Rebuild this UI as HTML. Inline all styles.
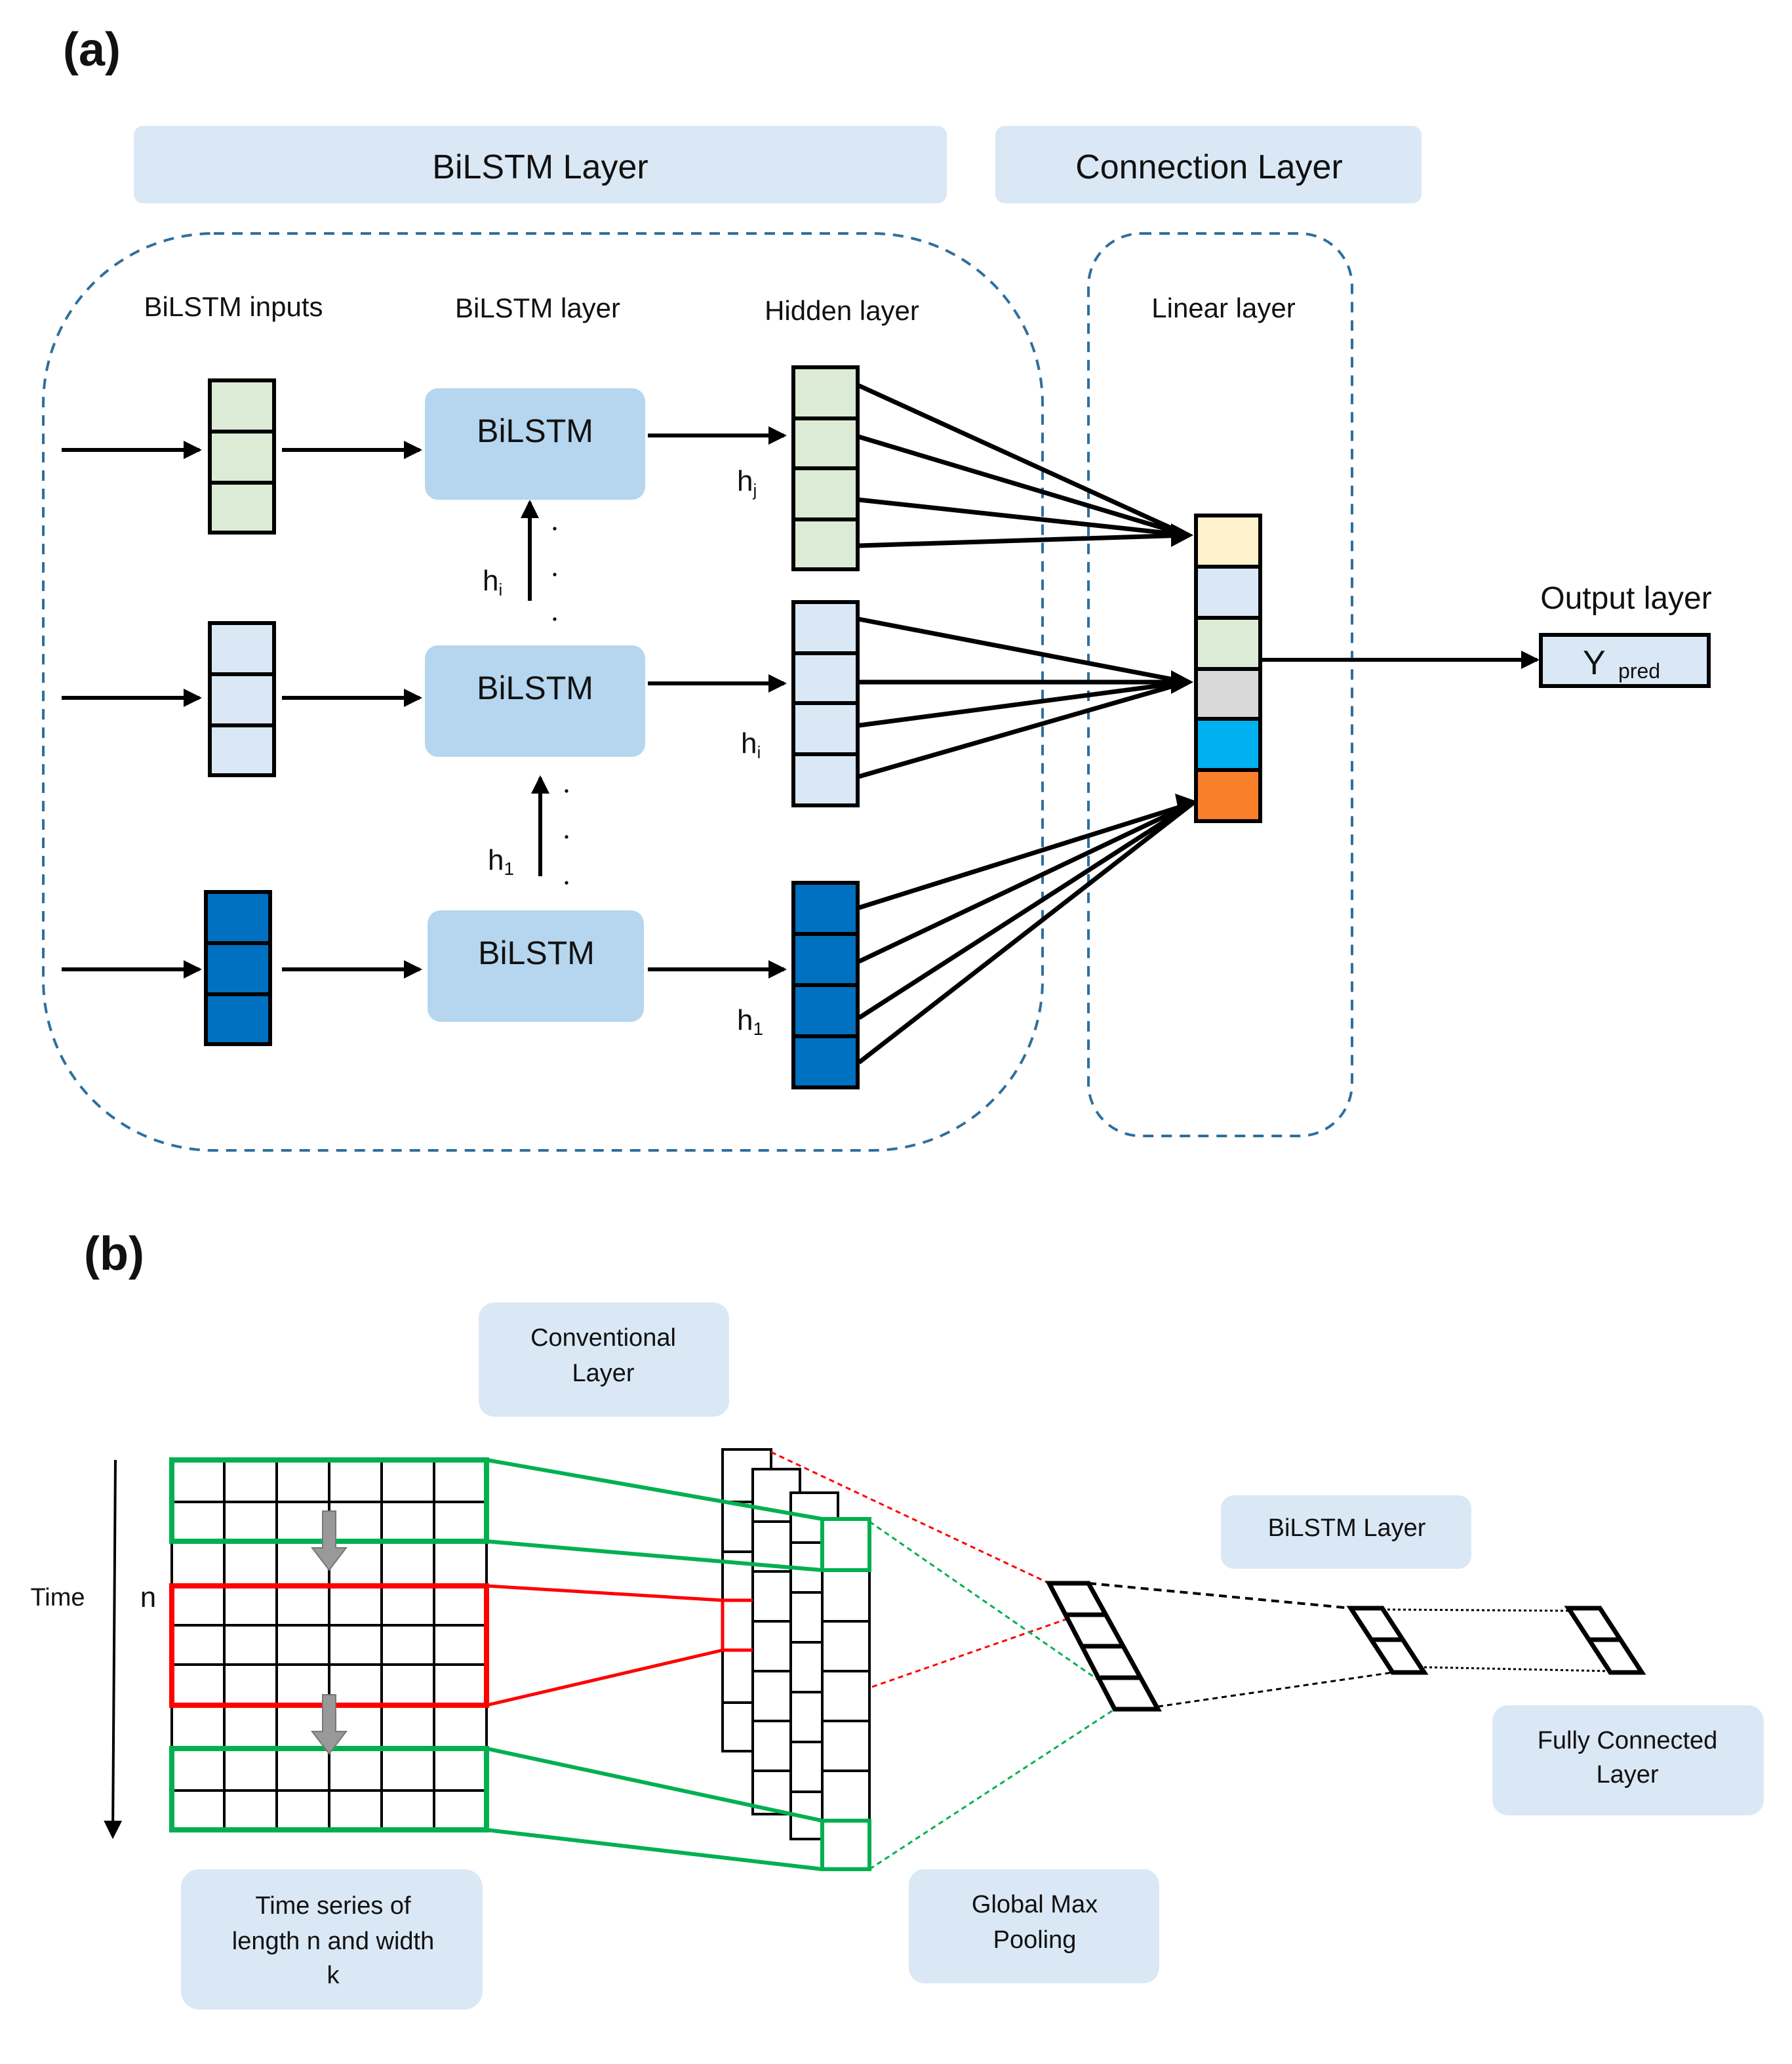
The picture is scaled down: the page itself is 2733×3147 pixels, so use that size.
<!DOCTYPE html>
<html><head><meta charset="utf-8"><style>
html,body{margin:0;padding:0;background:#fff}
svg{display:block}
text{font-family:"Liberation Sans",sans-serif;fill:#111}
</style></head><body>
<svg width="2733" height="3147" viewBox="0 0 1366.5 1573.5" xmlns="http://www.w3.org/2000/svg">
<defs>
<marker id="ah" markerWidth="8" markerHeight="8" refX="7" refY="4" orient="auto" markerUnits="userSpaceOnUse"><path d="M0,0 L8,4 L0,8 z" fill="#000"/></marker>
<marker id="ah2" markerWidth="14" markerHeight="14" refX="12" refY="7" orient="auto" markerUnits="userSpaceOnUse"><path d="M0,0 L14,7 L0,14 z" fill="#000"/></marker>
</defs>
<!-- (a) -->
<text x="48" y="50" font-size="36" font-weight="bold">(a)</text>
<rect x="102" y="96" width="620" height="59" rx="7" fill="#dae8f5"/>
<text x="412" y="136" font-size="26" text-anchor="middle">BiLSTM Layer</text>
<rect x="759" y="96" width="325" height="59" rx="7" fill="#dae8f5"/>
<text x="922" y="136" font-size="26" text-anchor="middle">Connection Layer</text>
<rect x="33" y="178" width="762" height="699" rx="130" fill="none" stroke="#2e6f9e" stroke-width="2" stroke-dasharray="8,6"/>
<rect x="830" y="178" width="201" height="688" rx="40" fill="none" stroke="#2e6f9e" stroke-width="2" stroke-dasharray="8,6"/>
<g font-size="21" text-anchor="middle">
<text x="178" y="241">BiLSTM inputs</text>
<text x="410" y="242">BiLSTM layer</text>
<text x="642" y="244">Hidden layer</text>
<text x="933" y="242">Linear layer</text>
<text x="1240" y="464" font-size="24">Output layer</text>
</g>
<g stroke="#000" stroke-width="3">
<rect x="160" y="290" width="49" height="39" fill="#dcebd5"/><rect x="160" y="329" width="49" height="39" fill="#dcebd5"/><rect x="160" y="368" width="49" height="38" fill="#dcebd5"/>
<rect x="160" y="475" width="49" height="39" fill="#dae8f5"/><rect x="160" y="514" width="49" height="39" fill="#dae8f5"/><rect x="160" y="553" width="49" height="38" fill="#dae8f5"/>
<rect x="157" y="680" width="49" height="39" fill="#0070c0"/><rect x="157" y="719" width="49" height="39" fill="#0070c0"/><rect x="157" y="758" width="49" height="38" fill="#0070c0"/>
</g>
<g stroke="#000" stroke-width="3" marker-end="url(#ah2)">
<line x1="47" y1="343" x2="152" y2="343"/><line x1="215" y1="343" x2="320" y2="343"/>
<line x1="47" y1="532" x2="152" y2="532"/><line x1="215" y1="532" x2="320" y2="532"/>
<line x1="47" y1="739" x2="152" y2="739"/><line x1="215" y1="739" x2="320" y2="739"/>
<line x1="494" y1="332" x2="598" y2="332"/><line x1="494" y1="521" x2="598" y2="521"/><line x1="494" y1="739" x2="598" y2="739"/>
<line x1="404" y1="458" x2="404" y2="383"/><line x1="412" y1="668" x2="412" y2="593"/>
<line x1="961" y1="503" x2="1172" y2="503"/>
</g>
<g fill="#b5d6ee">
<rect x="324" y="296" width="168" height="85" rx="10"/>
<rect x="324" y="492" width="168" height="85" rx="10"/>
<rect x="326" y="694" width="165" height="85" rx="10"/>
</g>
<g font-size="25" text-anchor="middle">
<text x="408" y="337">BiLSTM</text><text x="408" y="533">BiLSTM</text><text x="409" y="735">BiLSTM</text>
</g>
<g fill="#000">
<circle cx="423" cy="403" r="1.3"/><circle cx="423" cy="438" r="1.3"/><circle cx="423" cy="472" r="1.3"/>
<circle cx="432" cy="603" r="1.3"/><circle cx="432" cy="638" r="1.3"/><circle cx="432" cy="673" r="1.3"/>
</g>
<g font-size="22">
<text x="368" y="450">h<tspan font-size="13" dy="4">i</tspan></text>
<text x="372" y="663">h<tspan font-size="14" dy="4">1</tspan></text>
<text x="562" y="374">h<tspan font-size="13" dy="4">j</tspan></text>
<text x="565" y="574">h<tspan font-size="13" dy="4">i</tspan></text>
<text x="562" y="785">h<tspan font-size="14" dy="4">1</tspan></text>
</g>
<g stroke="#000" stroke-width="3">
<rect x="605" y="280" width="49" height="39" fill="#dcebd5"/><rect x="605" y="319" width="49" height="38" fill="#dcebd5"/><rect x="605" y="357" width="49" height="39" fill="#dcebd5"/><rect x="605" y="396" width="49" height="38" fill="#dcebd5"/>
<rect x="605" y="459" width="49" height="39" fill="#dae8f5"/><rect x="605" y="498" width="49" height="38" fill="#dae8f5"/><rect x="605" y="536" width="49" height="39" fill="#dae8f5"/><rect x="605" y="575" width="49" height="39" fill="#dae8f5"/>
<rect x="605" y="673" width="49" height="39" fill="#0070c0"/><rect x="605" y="712" width="49" height="39" fill="#0070c0"/><rect x="605" y="751" width="49" height="39" fill="#0070c0"/><rect x="605" y="790" width="49" height="39" fill="#0070c0"/>
</g>
<g stroke="#000" stroke-width="3.5">
<line x1="655" y1="294" x2="905" y2="408"/><line x1="655" y1="333" x2="905" y2="408"/><line x1="655" y1="381" x2="905" y2="408"/><line x1="655" y1="416" x2="905" y2="408"/>
<line x1="655" y1="472" x2="905" y2="520"/><line x1="655" y1="520" x2="905" y2="520"/><line x1="655" y1="553" x2="905" y2="520"/><line x1="655" y1="592" x2="905" y2="520"/>
<line x1="655" y1="692" x2="910" y2="612"/><line x1="655" y1="733" x2="910" y2="612"/><line x1="655" y1="776" x2="910" y2="612"/><line x1="655" y1="810" x2="910" y2="612"/>
</g>
<path d="M893,399 L910,408 L893,417 z M893,511 L910,520 L893,529 z M896,605 L913,611 L899,620 z" fill="#000"/>
<g stroke="#000" stroke-width="3">
<rect x="912" y="393" width="49" height="39" fill="#fff2cc"/>
<rect x="912" y="432" width="49" height="39" fill="#dae8f5"/>
<rect x="912" y="471" width="49" height="39" fill="#dcebd5"/>
<rect x="912" y="510" width="49" height="38" fill="#d9d9d9"/>
<rect x="912" y="548" width="49" height="39" fill="#00b0f0"/>
<rect x="912" y="587" width="49" height="39" fill="#f97f2a"/>
<rect x="1175" y="484" width="128" height="39" fill="#dae8f5"/>
</g>
<text x="1207" y="514" font-size="26">Y</text><text x="1234" y="517" font-size="16">pred</text>

<!-- (b) -->
<text x="64" y="968" font-size="36" font-weight="bold">(b)</text>
<g fill="#dae8f5">
<rect x="365" y="993" width="191" height="87" rx="12"/>
<rect x="931" y="1140" width="191" height="56" rx="10"/>
<rect x="1138" y="1300" width="207" height="84" rx="12"/>
<rect x="138" y="1425" width="230" height="107" rx="14"/>
<rect x="693" y="1425" width="191" height="87" rx="12"/>
</g>
<g font-size="19" text-anchor="middle">
<text x="460" y="1026">Conventional</text><text x="460" y="1053">Layer</text>
<text x="1027" y="1171">BiLSTM Layer</text>
<text x="1241" y="1333">Fully Connected</text><text x="1241" y="1359">Layer</text>
<text x="254" y="1459">Time series of</text><text x="254" y="1486">length n and width</text><text x="254" y="1512">k</text>
<text x="789" y="1458">Global Max</text><text x="789" y="1485">Pooling</text>
<text x="44" y="1224">Time</text>
<text x="113" y="1225" font-size="22">n</text>
</g>
<line x1="88" y1="1113" x2="86" y2="1400" stroke="#000" stroke-width="2" marker-end="url(#ah2)"/>
<!-- grid -->
<g stroke="#000" stroke-width="2">
<line x1="171" y1="1113" x2="171" y2="1395"/><line x1="211" y1="1113" x2="211" y2="1395"/><line x1="251" y1="1113" x2="251" y2="1395"/><line x1="291" y1="1113" x2="291" y2="1395"/><line x1="331" y1="1113" x2="331" y2="1395"/>
<line x1="131" y1="1145" x2="371" y2="1145"/><line x1="131" y1="1239" x2="371" y2="1239"/><line x1="131" y1="1269" x2="371" y2="1269"/><line x1="131" y1="1365" x2="371" y2="1365"/>
<line x1="131" y1="1113" x2="131" y2="1395"/><line x1="371" y1="1113" x2="371" y2="1395"/>
</g>
<g fill="none" stroke-width="4">
<rect x="131" y="1113" width="240" height="62" stroke="#00b050"/>
<rect x="131" y="1209" width="240" height="91" stroke="#ff0000"/>
<rect x="131" y="1333" width="240" height="62" stroke="#00b050"/>
</g>
<g fill="#999" stroke="#777" stroke-width="1">
<path d="M246,1152 h10 v28 h8 l-13,17 l-13,-17 h8 z"/>
<path d="M246,1292 h10 v28 h8 l-13,17 l-13,-17 h8 z"/>
</g>
<!-- feature maps -->
<g stroke="#000" stroke-width="2" fill="#fff">
<rect x="551" y="1105" width="37" height="230"/>
<line x1="551" y1="1145" x2="588" y2="1145"/><line x1="551" y1="1183" x2="588" y2="1183"/><line x1="551" y1="1298" x2="588" y2="1298"/>
<rect x="574" y="1120" width="36" height="263"/>
<line x1="574" y1="1160" x2="610" y2="1160"/><line x1="574" y1="1198" x2="610" y2="1198"/><line x1="574" y1="1236" x2="610" y2="1236"/><line x1="574" y1="1274" x2="610" y2="1274"/><line x1="574" y1="1312" x2="610" y2="1312"/><line x1="574" y1="1350" x2="610" y2="1350"/>
<rect x="603" y="1138" width="36" height="264"/>
<line x1="603" y1="1176" x2="639" y2="1176"/><line x1="603" y1="1214" x2="639" y2="1214"/><line x1="603" y1="1252" x2="639" y2="1252"/><line x1="603" y1="1290" x2="639" y2="1290"/><line x1="603" y1="1328" x2="639" y2="1328"/><line x1="603" y1="1366" x2="639" y2="1366"/>
<rect x="627" y="1158" width="36" height="267"/>
<line x1="627" y1="1236" x2="663" y2="1236"/><line x1="627" y1="1274" x2="663" y2="1274"/><line x1="627" y1="1312" x2="663" y2="1312"/><line x1="627" y1="1350" x2="663" y2="1350"/>
</g>
<g stroke="#00b050" stroke-width="3" fill="none">
<rect x="627" y="1158" width="36" height="39"/>
<rect x="627" y="1388" width="36" height="37"/>
<line x1="371" y1="1113" x2="627" y2="1158"/><line x1="371" y1="1175" x2="627" y2="1197"/>
<line x1="371" y1="1333" x2="627" y2="1388"/><line x1="371" y1="1395" x2="627" y2="1425"/>
</g>
<g stroke="#ff0000" stroke-width="2.5" fill="none">
<path d="M574,1220 H551 V1258 H574"/>
<line x1="371" y1="1209" x2="551" y2="1220"/><line x1="371" y1="1300" x2="551" y2="1258"/>
</g>
<g stroke-width="1.5" fill="none" stroke-dasharray="4,3">
<line x1="588" y1="1107" x2="800" y2="1207" stroke="#ff0000"/>
<line x1="665" y1="1286" x2="820" y2="1232" stroke="#ff0000"/>
<line x1="663" y1="1160" x2="848" y2="1288" stroke="#00b050"/>
<line x1="663" y1="1425" x2="850" y2="1303" stroke="#00b050"/>
<line x1="830" y1="1207" x2="1030" y2="1226" stroke="#000" stroke-width="2" stroke-dasharray="6,4"/>
<line x1="883" y1="1301" x2="1062" y2="1275" stroke="#000"/>
<line x1="1054" y1="1227" x2="1196" y2="1228" stroke="#000" stroke-dasharray="2,2"/>
<line x1="1086" y1="1271" x2="1228" y2="1274" stroke="#000" stroke-dasharray="2,2"/>
</g>
<g stroke="#000" stroke-width="3.5" fill="#fff" stroke-linejoin="miter">
<polygon points="800,1207 830,1207 883,1303 850,1303"/>
<line x1="813" y1="1231" x2="843" y2="1231"/><line x1="826" y1="1255" x2="856" y2="1255"/><line x1="839" y1="1279" x2="869" y2="1279"/>
<polygon points="1030,1226 1054,1226 1086,1275 1062,1275"/>
<line x1="1046" y1="1250" x2="1070" y2="1250"/>
<polygon points="1196,1226 1220,1226 1252,1275 1228,1275"/>
<line x1="1212" y1="1250" x2="1236" y2="1250"/>
</g>
</svg>
</body></html>
